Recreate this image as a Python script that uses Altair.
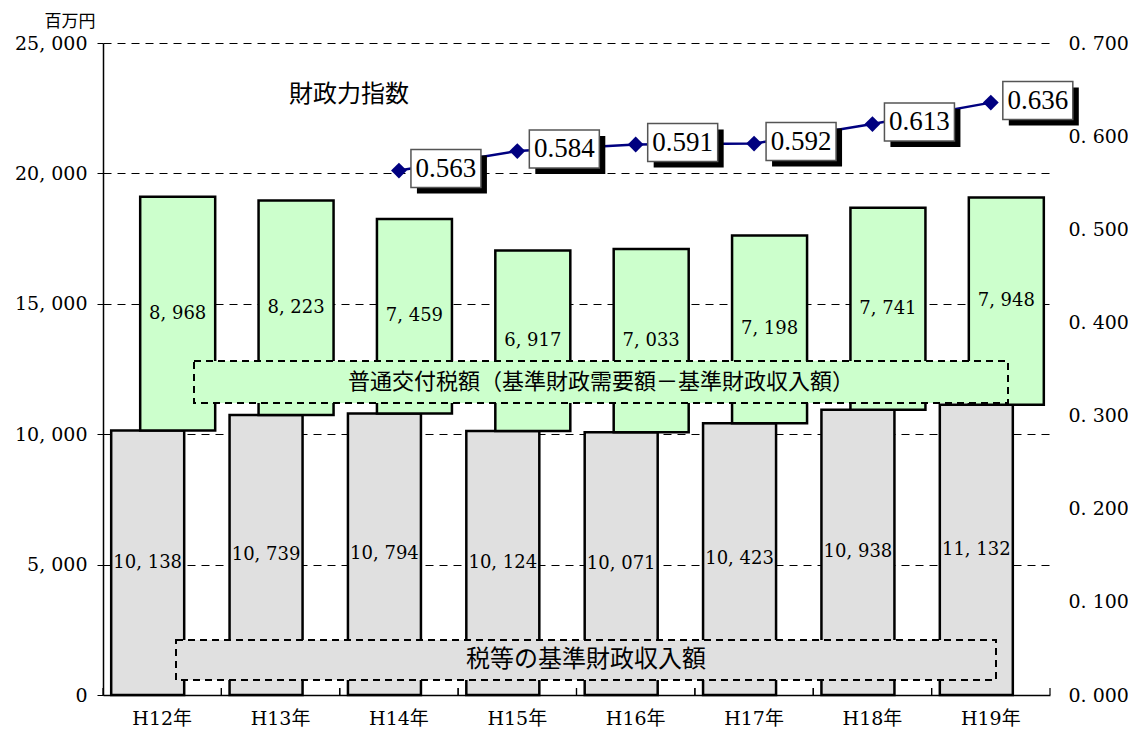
import altair as alt
import pandas as pd

years = ["H12年", "H13年", "H14年", "H15年", "H16年", "H17年", "H18年", "H19年"]
revenue = [10138, 10739, 10794, 10124, 10071, 10423, 10938, 11132]
grant = [8968, 8223, 7459, 6917, 7033, 7198, 7741, 7948]
fiscal_index = [None, None, 0.563, 0.584, 0.591, 0.592, 0.613, 0.636]
left_ticks = [0, 5000, 10000, 15000, 20000, 25000]
right_ticks = [0.0, 0.1, 0.2, 0.3, 0.4, 0.5, 0.6, 0.7]

label_grant = "普通交付税額（基準財政需要額－基準財政収入額）"
label_revenue = "税等の基準財政収入額"
label_index = "財政力指数"
unit_label = "百万円"

df = pd.DataFrame({"year": years, "revenue": revenue, "grant": grant, "idx": fiscal_index})

W, H = 947, 652
SERIF = "DejaVu Serif, Noto Sans CJK JP"
JP = "Noto Sans CJK JP"
NUM = "Liberation Serif"

base = alt.Chart(df)
xenc = alt.X(
    "year:N", sort=years,
    scale=alt.Scale(paddingInner=0, paddingOuter=0),
    axis=alt.Axis(title=None, ticks=False, grid=False, domainColor="black", domainWidth=1.5,
                  labelFont=SERIF, labelFontSize=19, labelColor="black",
                  labelPadding=14, labelAngle=0),
)
yscale = alt.Scale(domain=[0, 25000], nice=False, zero=True)
left_axis = alt.Axis(
    title=None, values=left_ticks,
    labelExpr="replace(format(datum.value, ','), ',', ', ')",
    grid=True, gridDash=[8, 6], gridColor="black", gridWidth=1,
    tickColor="black", tickSize=6, domainColor="black", domainWidth=1.5,
    labelFont="DejaVu Serif", labelFontSize=19, labelColor="black", labelPadding=10,
)

calc = base.transform_calculate(
    top="datum.revenue + datum.grant",
    gmid="datum.revenue + datum.grant / 2",
    rmid="datum.revenue / 2",
    glab="replace(format(datum.grant, ','), ',', ', ')",
    rlab="replace(format(datum.revenue, ','), ',', ', ')",
)

gray_bars = calc.mark_bar(width=73, xOffset=-14.5, fill="#e0e0e0", stroke="black",
                          strokeWidth=2.5).encode(
    x=xenc, y=alt.Y("revenue:Q", scale=yscale, axis=left_axis))
green_bars = calc.mark_bar(width=75, xOffset=15.5, fill="#ccffcc", stroke="black",
                           strokeWidth=2.5).encode(
    x=xenc, y=alt.Y("revenue:Q", scale=yscale, axis=left_axis), y2="top:Q")

gray_text = calc.mark_text(dx=-14.5, font="DejaVu Serif", fontSize=18, color="black").encode(
    x=xenc, y=alt.Y("rmid:Q", scale=yscale, axis=left_axis), text="rlab:N")
green_text = calc.mark_text(dx=15.5, font="DejaVu Serif", fontSize=18, color="black").encode(
    x=xenc, y=alt.Y("gmid:Q", scale=yscale, axis=left_axis), text="glab:N")

tick_lo = base.mark_rule(color="black", strokeWidth=1.2).encode(
    x=alt.X("year:N", sort=years, bandPosition=0), y=alt.value(H), y2=alt.value(H - 7))
tick_hi = base.mark_rule(color="black", strokeWidth=1.2).encode(
    x=alt.X("year:N", sort=years, bandPosition=1), y=alt.value(H), y2=alt.value(H - 7))

one = alt.Data(values=[{"a": 1}])
grant_box = alt.Chart(one).mark_rect(fill="#ccffcc", stroke="black", strokeWidth=2,
                                     strokeDash=[7, 5]).encode(
    x=alt.value(91), x2=alt.value(905), y=alt.value(318), y2=alt.value(360))
grant_lbl = alt.Chart(one).mark_text(font=JP, fontSize=22, color="black").encode(
    x=alt.value(498), y=alt.value(339), text=alt.value(label_grant))
rev_box = alt.Chart(one).mark_rect(fill="#e0e0e0", stroke="black", strokeWidth=2,
                                   strokeDash=[7, 5]).encode(
    x=alt.value(73), x2=alt.value(893), y=alt.value(597), y2=alt.value(637))
rev_lbl = alt.Chart(one).mark_text(font=JP, fontSize=24, color="black").encode(
    x=alt.value(483), y=alt.value(617), text=alt.value(label_revenue))
idx_lbl = alt.Chart(one).mark_text(font=JP, fontSize=24, color="black").encode(
    x=alt.value(246), y=alt.value(52), text=alt.value(label_index))
unit_lbl = alt.Chart(one).mark_text(font=JP, fontSize=17, color="black").encode(
    x=alt.value(-33), y=alt.value(-21), text=alt.value(unit_label))

bars_layer = alt.layer(gray_bars, green_bars, tick_lo, tick_hi, grant_box, rev_box,
                       gray_text, green_text, grant_lbl, rev_lbl, idx_lbl, unit_lbl)

rscale = alt.Scale(domain=[0, 0.7], nice=False, zero=True)
right_axis = alt.Axis(
    orient="right", title=None, values=right_ticks,
    labelExpr="replace(format(datum.value, '.3f'), '.', '. ')",
    domain=False, ticks=False, grid=False,
    labelFont="DejaVu Serif", labelFontSize=19, labelColor="black", labelPadding=18,
)
ratio = base.transform_filter("datum.idx != null").transform_calculate(
    ilab="format(datum.idx, '.3f')")
yr = alt.Y("idx:Q", scale=rscale, axis=right_axis)

line = ratio.mark_line(color="#000080", strokeWidth=2.5).encode(x=xenc, y=yr)
dots = ratio.mark_point(shape="diamond", filled=True, color="#000080", size=250,
                        opacity=1).encode(x=xenc, y=yr)
box_path = "M0.343,-0.6 H2.343 V0.486 H0.343 Z"
shadow_path = "M0.514,-0.429 H2.514 V0.657 H0.514 Z"
shadows = ratio.mark_point(shape=shadow_path, filled=True, fill="black", size=4900,
                           strokeWidth=0, opacity=1).encode(x=xenc, y=yr)
boxes = ratio.mark_point(shape=box_path, filled=True, fill="white", stroke="#555555",
                         strokeWidth=1.5, size=4900, opacity=1).encode(x=xenc, y=yr)
box_text = ratio.mark_text(dx=47, dy=-2, font=NUM, fontSize=27, color="black").encode(
    x=xenc, y=yr, text="ilab:N")

ratio_layer = alt.layer(line, dots, shadows, boxes, box_text)

chart = alt.layer(bars_layer, ratio_layer).resolve_scale(y="independent").properties(
    width=W, height=H,
    background="white",
    padding={"left": 95, "top": 35, "right": 78, "bottom": 37},
    autosize=alt.AutoSizeParams(type="none"),
).configure_view(strokeWidth=0, stroke="transparent")

chart.save("out.html", embed_options={"renderer": "svg", "actions": False})
